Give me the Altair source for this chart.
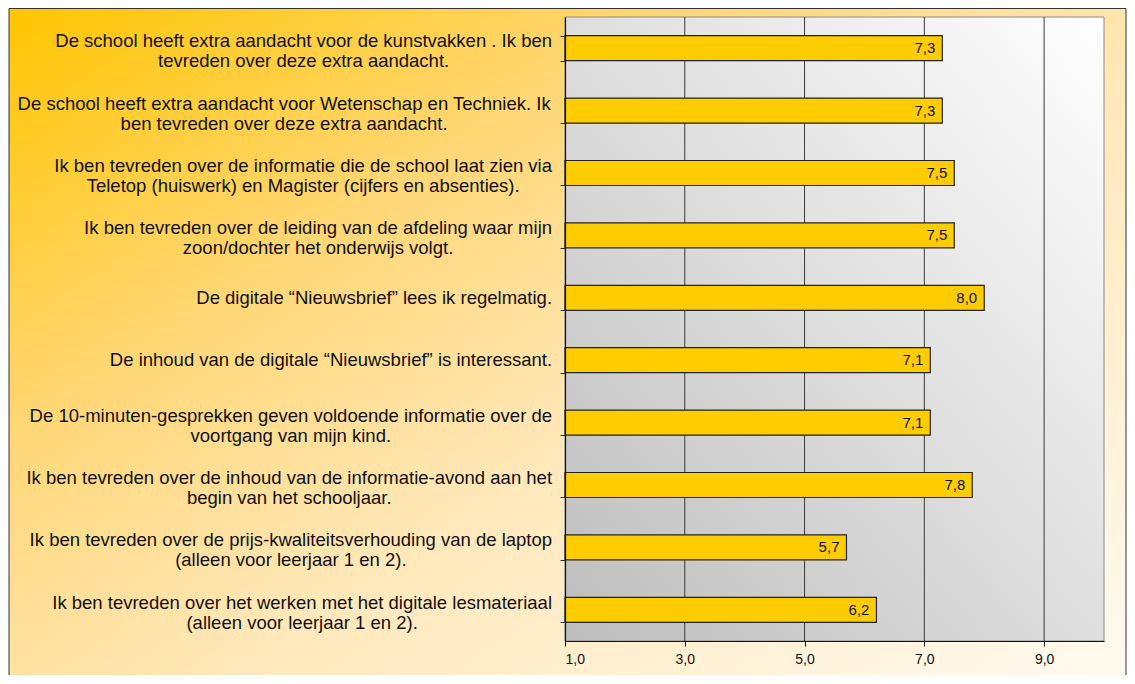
import altair as alt
import pandas as pd

# ---- data ----
labels = [
    "De school heeft extra aandacht voor de kunstvakken . Ik ben|tevreden over deze extra aandacht.",
    "De school heeft extra aandacht voor Wetenschap en Techniek. Ik|ben tevreden over deze extra aandacht.",
    "Ik ben tevreden over de informatie die de school laat zien via|Teletop (huiswerk) en Magister (cijfers en absenties).",
    "Ik ben tevreden over de leiding van de afdeling waar mijn|zoon/dochter het onderwijs volgt.",
    "De digitale \u201cNieuwsbrief\u201d lees ik regelmatig.",
    "De inhoud van de digitale \u201cNieuwsbrief\u201d is interessant.",
    "De 10-minuten-gesprekken geven voldoende informatie over de|voortgang van mijn kind.",
    "Ik ben tevreden over de inhoud van de informatie-avond aan het|begin van het schooljaar.",
    "Ik ben tevreden over de prijs-kwaliteitsverhouding van de laptop|(alleen voor leerjaar 1 en 2).",
    "Ik ben tevreden over het werken met het digitale lesmateriaal|(alleen voor leerjaar 1 en 2).",
]
values = [7.3, 7.3, 7.5, 7.5, 8.0, 7.1, 7.1, 7.8, 5.7, 6.2]
tick_values = [1, 3, 5, 7, 9]
grid_values = [3, 5, 7, 9]
x_domain = [1, 10]

FONT = "Liberation Sans"
LABEL_FS = 18.5
LABEL_GAP = 13  # tick length + padding between axis and label block

# Arial / Liberation Sans advance widths (1/1000 em), used to centre each
# multi-line label block against the axis like the original chart does
AFM = {
    " ": 278, "(": 333, ")": 333, ",": 278, "-": 333, ".": 278, "/": 278,
    "\u201c": 333, "\u201d": 333,
    "A": 667, "B": 667, "C": 722, "D": 722, "E": 667, "F": 611, "G": 778, "H": 722,
    "I": 278, "J": 500, "K": 667, "L": 556, "M": 833, "N": 722, "O": 778, "P": 667,
    "Q": 778, "R": 722, "S": 667, "T": 611, "U": 722, "V": 667, "W": 944, "X": 667,
    "Y": 667, "Z": 611,
    "a": 556, "b": 556, "c": 500, "d": 556, "e": 556, "f": 278, "g": 556, "h": 556,
    "i": 222, "j": 222, "k": 500, "l": 222, "m": 833, "n": 556, "o": 556, "p": 556,
    "q": 556, "r": 333, "s": 500, "t": 278, "u": 556, "v": 500, "w": 722, "x": 500,
    "y": 500, "z": 500,
}


def block_width(label):
    return max(sum(AFM.get(c, 556) for c in p) for p in label.split("|")) * LABEL_FS / 1000.0


df = pd.DataFrame({"label": labels, "v": values})
df["cx"] = [-LABEL_GAP - block_width(l) / 2.0 for l in labels]
grid_df = pd.DataFrame({"g": grid_values})
one = alt.Data(values=[{"a": 1}])

W, H = 539, 624

x_scale = alt.Scale(domain=x_domain, nice=False, zero=False)
y_scale = alt.Scale(paddingInner=0.6, paddingOuter=0.3)

x_axis = alt.Axis(
    values=tick_values,
    labelExpr="replace(format(datum.value, '.1f'), '.', ',')",
    title=None, grid=False, domainColor="#111", domainWidth=1.2,
    tickColor="#111", tickSize=5, labelFontSize=14, labelFont=FONT,
    labelColor="#111", labelPadding=6, zindex=1,
)
y_axis = alt.Axis(
    title=None, grid=False, tickBand="extent", tickSize=5, tickColor="#333",
    labels=False, domainColor="#111", domainWidth=1.2, zindex=1,
)

frame = alt.Chart(one).mark_rect(
    fill=alt.LinearGradient(
        gradient="linear", x1=0, y1=0, x2=1, y2=1,
        stops=[
            alt.GradientStop(color="#FFC500", offset=0),
            alt.GradientStop(color="#FFD777", offset=0.3),
            alt.GradientStop(color="#FFE8BA", offset=0.55),
            alt.GradientStop(color="#FFFCF6", offset=1),
        ],
    ),
    stroke="#333", strokeWidth=1,
).encode(x=alt.value(-556), x2=alt.value(561), y=alt.value(-8.5), y2=alt.value(720))

plot_bg = alt.Chart(one).mark_rect(
    fill=alt.LinearGradient(
        gradient="linear", x1=0, y1=1, x2=1, y2=0,
        stops=[
            alt.GradientStop(color="#BDBDBD", offset=0),
            alt.GradientStop(color="#FFFFFF", offset=1),
        ],
    ),
    stroke="#8a8a8a", strokeWidth=1,
).encode(x=alt.value(0), x2=alt.value(W), y=alt.value(0), y2=alt.value(H))

grid = alt.Chart(grid_df).mark_rule(color="#3a3a3a", strokeWidth=1).encode(
    x=alt.X("g:Q", scale=x_scale, axis=x_axis)
)

base = alt.Chart(df).transform_calculate(
    base="1", lbl="replace(format(datum.v, '.1f'), '.', ',')"
)

bars = base.mark_bar(color="#FFCC00", stroke="#222", strokeWidth=1.2).encode(
    y=alt.Y("label:N", sort=None, scale=y_scale, axis=y_axis),
    x=alt.X("v:Q", scale=x_scale, axis=x_axis),
    x2="base:Q",
)

bar_text = base.mark_text(
    align="right", baseline="middle", dx=-7, fontSize=15, font=FONT, color="#111"
).encode(
    y=alt.Y("label:N", sort=None, scale=y_scale, axis=y_axis),
    x=alt.X("v:Q", scale=x_scale, axis=x_axis),
    text="lbl:N",
)


def label_layer(expr, dy):
    return base.transform_filter(expr).mark_text(
        align="center", baseline="middle", lineBreak="|", lineHeight=20,
        fontSize=LABEL_FS, font=FONT, color="#111", dy=dy,
    ).encode(
        y=alt.Y("label:N", sort=None, scale=y_scale, axis=y_axis),
        x=alt.X("cx:Q", scale=None),
        text="label:N",
    )


cat_one_line = label_layer("indexof(datum.label, '|') < 0", 0)
cat_two_lines = label_layer("indexof(datum.label, '|') >= 0", -7)

chart = alt.layer(
    frame, plot_bg, grid, bars, bar_text, cat_one_line, cat_two_lines
).properties(
    width=W, height=H,
    autosize=alt.AutoSizeParams(type="none"),
    padding={"left": 557, "top": 9, "right": 23, "bottom": 34},
).configure_view(stroke=None)

chart.save("out.html", embed_options={"renderer": "svg", "actions": False})
